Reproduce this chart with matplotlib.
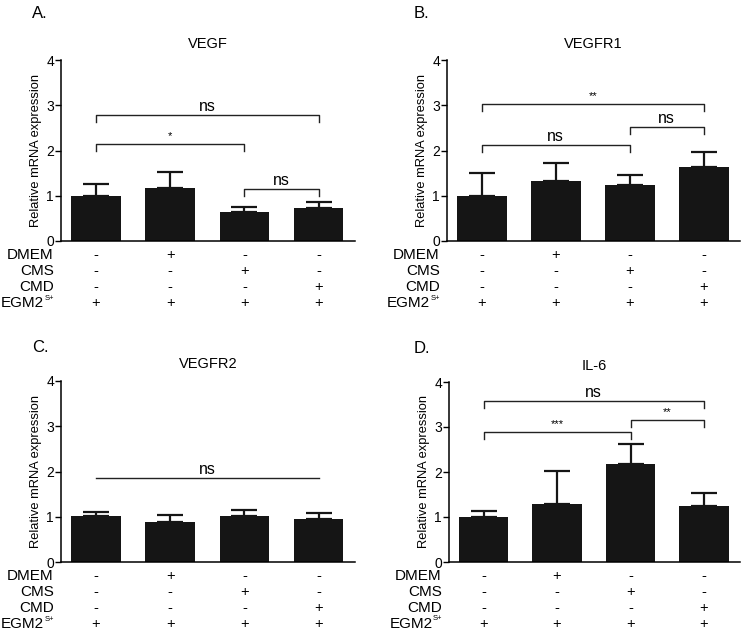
import numpy as np
import matplotlib
matplotlib.use('Agg')
import matplotlib.pyplot as plt
from matplotlib.transforms import blended_transform_factory

plt.rcParams['font.family'] = ['Liberation Sans', 'DejaVu Sans']

# data
genes = ['VEGF', 'VEGFR1', 'VEGFR2', 'IL-6']
letters = ['A.', 'B.', 'C.', 'D.']

vegf_mean = [1.00, 1.18, 0.64, 0.73]
vegf_err = [0.27, 0.35, 0.12, 0.14]
vegfr1_mean = [0.99, 1.33, 1.24, 1.64]
vegfr1_err = [0.51, 0.39, 0.22, 0.32]
vegfr2_mean = [1.01, 0.88, 1.02, 0.96]
vegfr2_err = [0.10, 0.15, 0.13, 0.13]
il6_mean = [1.01, 1.28, 2.17, 1.25]
il6_err = [0.12, 0.74, 0.45, 0.29]

# (from bar, to bar, height, label)
vegf_sig = [(0, 3, 2.78, 'ns'), (0, 2, 2.14, '*'), (2, 3, 1.15, 'ns')]
vegfr1_sig = [(0, 3, 3.03, '**'), (0, 2, 2.12, 'ns'), (2, 3, 2.52, 'ns')]
vegfr2_sig = [(0, 3, 1.86, 'ns')]
il6_sig = [(0, 3, 3.57, 'ns'), (0, 2, 2.89, '***'), (2, 3, 3.16, '**')]

row_names = ['DMEM', 'CMS', 'CMD', 'EGM2']
dmem = ['-', '+', '-', '-']
cms = ['-', '-', '+', '-']
cmd = ['-', '-', '-', '+']
egm2 = ['+', '+', '+', '+']

means = [vegf_mean, vegfr1_mean, vegfr2_mean, il6_mean]
errs = [vegf_err, vegfr1_err, vegfr2_err, il6_err]
sigs = [vegf_sig, vegfr1_sig, vegfr2_sig, il6_sig]
legs = [True, True, False, True]
rows = [dmem, cms, cmd, egm2]

W, H = 745, 632
fig = plt.figure(figsize=(W / 100, H / 100), dpi=100)

# axes boxes in pixels: left, right, top(y=4), bottom(y=0)
boxes = [(61, 355, 60, 241), (447, 740, 60, 241),
         (61, 355, 381, 562), (449, 740, 382, 562)]
letter_pos = [(32, 14), (414, 14), (32, 347), (414, 349)]

x = np.arange(4)
for k in range(4):
    l, r, t, b = boxes[k]
    ax = fig.add_axes([l / W, 1 - b / H, (r - l) / W, (b - t) / H])
    ax.bar(x, means[k], width=0.67, color='#151515', zorder=2)
    ax.errorbar(x, means[k], yerr=[np.zeros(4), errs[k]], fmt='none',
                ecolor='#151515', elinewidth=1.6, capsize=9.5, capthick=1.6,
                zorder=1)
    ax.set_xlim(-0.47, 3.49)
    ax.set_ylim(0, 4)
    ax.set_yticks([0, 1, 2, 3, 4])
    ax.tick_params(axis='y', labelsize=10, length=4, width=1, pad=1)
    ax.set_xticks([])
    for s in ['top', 'right']:
        ax.spines[s].set_visible(False)
    for s in ['left', 'bottom']:
        ax.spines[s].set_linewidth(1.1)
    ax.set_ylabel('Relative mRNA expression', fontsize=9.3, labelpad=3)
    ax.set_title(genes[k], fontsize=10.5, pad=9)

    for i, j, yy, lab in sigs[k]:
        if legs[k]:
            ax.plot([i, i, j, j], [yy - 0.15, yy, yy, yy - 0.15],
                    color='#222222', lw=1, zorder=3)
        else:
            ax.plot([i, j], [yy, yy], color='#222222', lw=1, zorder=3)
        if '*' in lab:
            ax.text((i + j) / 2, yy + 0.06, lab, ha='center', va='bottom',
                    fontsize=8)
        else:
            ax.text((i + j) / 2, yy + 0.02, lab, ha='center', va='bottom',
                    fontsize=11.5)

    tr = blended_transform_factory(ax.transData, ax.transAxes)
    row_y = [-0.08, -0.165, -0.253, -0.345]
    for ri in range(4):
        if ri < 3:
            ax.text(-0.025, row_y[ri], row_names[ri], transform=ax.transAxes,
                    ha='right', va='center', fontsize=11)
        else:
            lab = ax.text(-0.057, row_y[ri], row_names[ri],
                          transform=ax.transAxes, ha='right', va='center',
                          fontsize=11)
            ax.annotate('S+', xy=(1, 0.62), xycoords=lab, xytext=(0.5, 0),
                        textcoords='offset points', ha='left', va='bottom',
                        fontsize=5.5)
        for ci in range(4):
            ax.text(x[ci], row_y[ri], rows[ri][ci], transform=tr,
                    ha='center', va='center', fontsize=10.5)

    fig.text(letter_pos[k][0] / W, 1 - letter_pos[k][1] / H, letters[k],
             ha='left', va='center', fontsize=12)

fig.savefig('out.png', dpi=100)
